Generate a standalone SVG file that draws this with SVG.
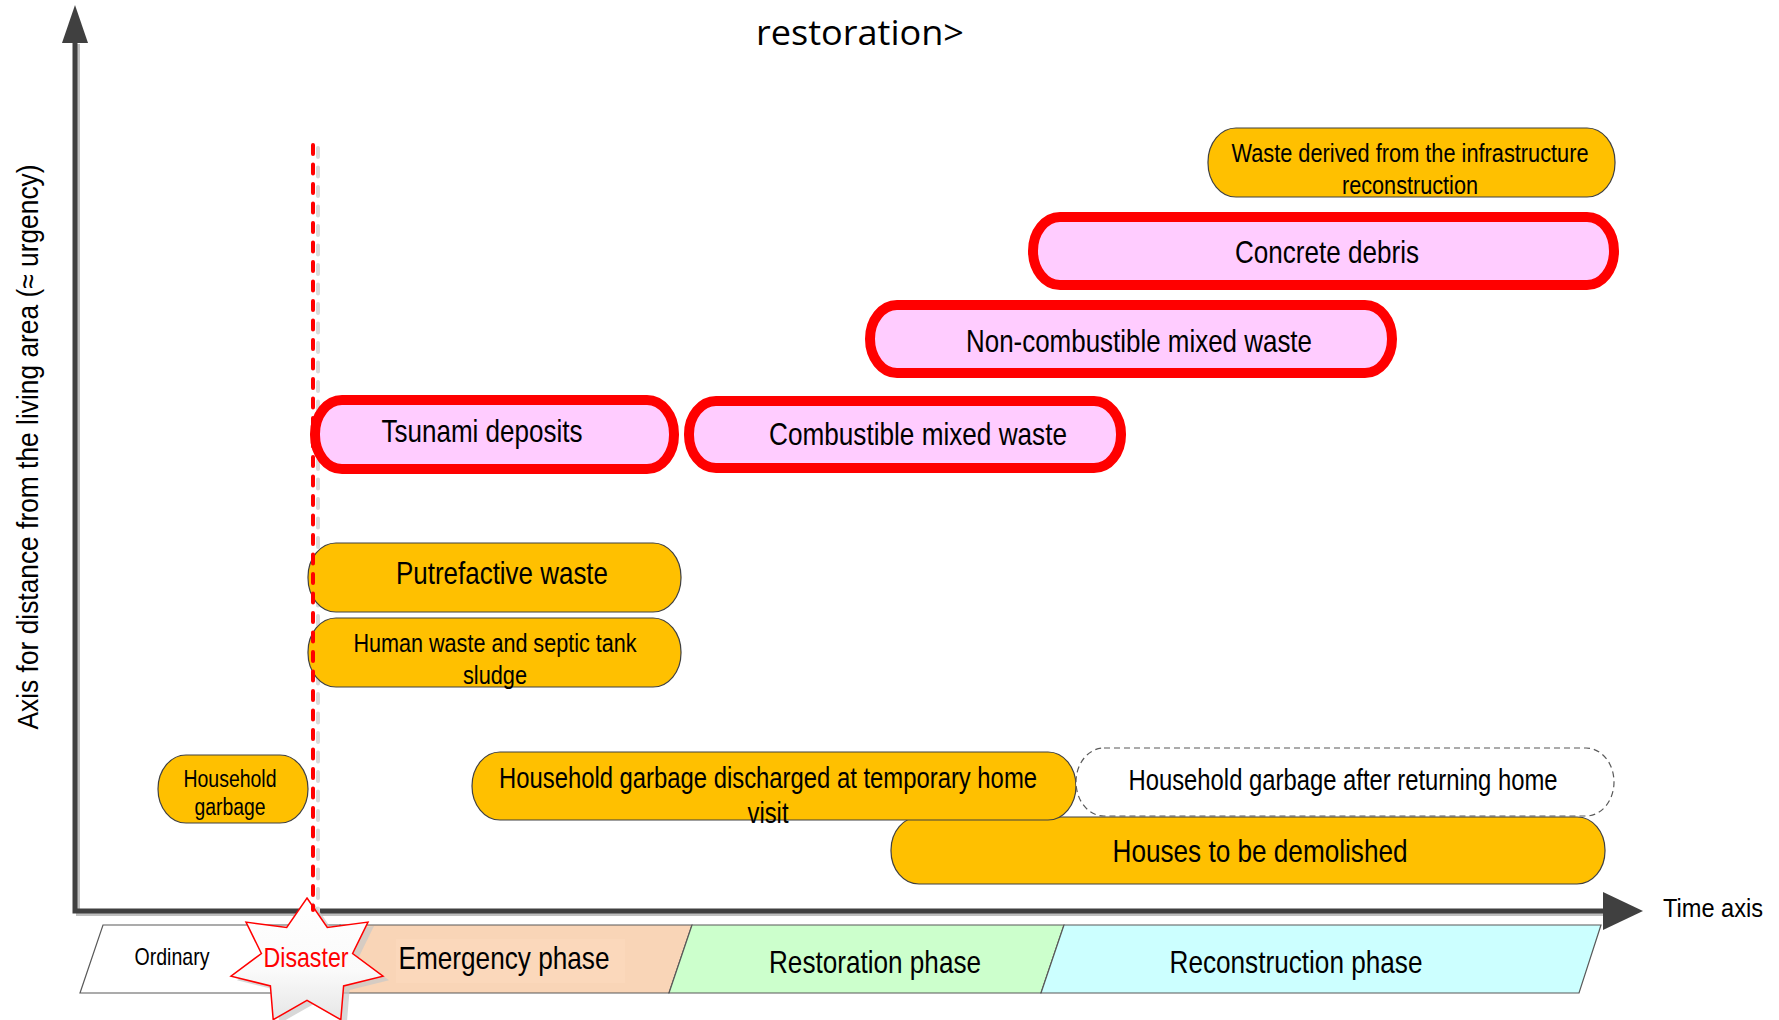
<svg xmlns="http://www.w3.org/2000/svg" width="1779" height="1020" viewBox="0 0 1779 1020">
  <defs>
    <style>
      .t { font-family: "Liberation Sans", Arial, sans-serif; fill: #000; text-anchor: middle; }
      .yl { fill: #FFC000; stroke: #404040; stroke-width: 1.2; }
      .pk { fill: #FFCCFF; stroke: #FF0000; stroke-width: 10; }
      .band { stroke: #595959; stroke-width: 1.2; }
      .axis { stroke: #404040; stroke-width: 5; fill: none; }
      .axis-shadow { stroke: #BFBFBF; stroke-width: 4; fill: none; }
    </style>
    <linearGradient id="starFill" x1="0" y1="0" x2="0" y2="1">
      <stop offset="0" stop-color="#FFFFFF"/>
      <stop offset="0.6" stop-color="#FAFAFA"/>
      <stop offset="1" stop-color="#E6E6E6"/>
    </linearGradient>
  </defs>

  <rect width="1779" height="1020" fill="#FFFFFF"/>

  <!-- heading (second line) -->
  <text x="860" y="45" font-family="'Open Sans', 'Liberation Sans', sans-serif" font-size="34" text-anchor="middle" textLength="208" lengthAdjust="spacingAndGlyphs" fill="#000">restoration&gt;</text>

  <!-- phase band along the time axis -->
  <g id="phases">
    <polygon class="band" fill="#FFFFFF" points="103,925 340,925 317,993 80,993"/>
    <polygon class="band" fill="#F9D5B7" points="340,925 692,925 669,993 317,993"/>
    <rect x="396" y="939" width="229" height="44" fill="#FBD8BB"/>
    <polygon class="band" fill="#CCFFCC" points="692,925 1064,925 1041,993 669,993"/>
    <polygon class="band" fill="#CCFFFF" points="1064,925 1601,925 1579,993 1041,993"/>
    <text class="t" x="172" y="965" font-size="24" textLength="75" lengthAdjust="spacingAndGlyphs">Ordinary</text>
    <text class="t" x="504" y="969" font-size="32" textLength="211" lengthAdjust="spacingAndGlyphs">Emergency phase</text>
    <text class="t" x="875" y="973" font-size="32" textLength="212" lengthAdjust="spacingAndGlyphs">Restoration phase</text>
    <text class="t" x="1296" y="973" font-size="32" textLength="253" lengthAdjust="spacingAndGlyphs">Reconstruction phase</text>
  </g>

  <!-- axes -->
  <g id="axes">
    <polyline class="axis-shadow" points="78,44 78,914 1604,914"/>
    <polyline class="axis" points="75,40 75,911 1606,911"/>
    <polygon fill="#404040" points="75,5 88,43 62,43"/>
    <polygon fill="#404040" points="1603,892 1643,911 1603,930"/>
    <text class="t" x="0" y="0" font-size="30" textLength="565" lengthAdjust="spacingAndGlyphs" transform="translate(38,447) rotate(-90)">Axis for distance from the living area (≈ urgency)</text>
    <text class="t" x="1663" y="917" font-size="26.5" style="text-anchor:start" textLength="100" lengthAdjust="spacingAndGlyphs">Time axis</text>
  </g>

  <!-- shadow of the disaster marker line -->
  <line x1="318" y1="148" x2="318" y2="912" stroke="#D9D9D9" stroke-width="4" stroke-linecap="round" stroke-dasharray="9 10.5"/>

  <!-- waste categories -->
  <g id="infrastructure-waste">
    <rect class="yl" x="1208" y="128" width="407" height="69" rx="28" ry="34"/>
    <text class="t" x="1410" y="162" font-size="26.5" textLength="357" lengthAdjust="spacingAndGlyphs">Waste derived from the infrastructure</text>
    <text class="t" x="1410" y="194" font-size="26.5" textLength="136" lengthAdjust="spacingAndGlyphs">reconstruction</text>
  </g>

  <g id="concrete-debris">
    <rect class="pk" x="1033" y="217" width="581" height="68" rx="27" ry="34"/>
    <text class="t" x="1327" y="263" font-size="32" textLength="184" lengthAdjust="spacingAndGlyphs">Concrete debris</text>
  </g>

  <g id="non-combustible-mixed-waste">
    <rect class="pk" x="870" y="305" width="522" height="68" rx="27" ry="34"/>
    <text class="t" x="1139" y="352" font-size="32" textLength="346" lengthAdjust="spacingAndGlyphs">Non-combustible mixed waste</text>
  </g>

  <g id="tsunami-deposits">
    <rect class="pk" x="315" y="400" width="359" height="69" rx="27" ry="34"/>
    <text class="t" x="482" y="442" font-size="32" textLength="201" lengthAdjust="spacingAndGlyphs">Tsunami deposits</text>
  </g>

  <g id="combustible-mixed-waste">
    <rect class="pk" x="689" y="401" width="432" height="67" rx="27" ry="33"/>
    <text class="t" x="918" y="445" font-size="32" textLength="298" lengthAdjust="spacingAndGlyphs">Combustible mixed waste</text>
  </g>

  <g id="putrefactive-waste">
    <rect class="yl" x="308" y="543" width="373" height="69" rx="28" ry="34"/>
    <text class="t" x="502" y="584" font-size="32" textLength="212" lengthAdjust="spacingAndGlyphs">Putrefactive waste</text>
  </g>

  <g id="human-waste">
    <rect class="yl" x="308" y="618" width="373" height="69" rx="28" ry="34"/>
    <text class="t" x="495" y="652" font-size="26.5" textLength="283" lengthAdjust="spacingAndGlyphs">Human waste and septic tank</text>
    <text class="t" x="495" y="684" font-size="26.5" textLength="64" lengthAdjust="spacingAndGlyphs">sludge</text>
  </g>

  <g id="household-garbage">
    <rect class="yl" x="158" y="755" width="150" height="68" rx="28" ry="34"/>
    <text class="t" x="230" y="787" font-size="23.5" textLength="93" lengthAdjust="spacingAndGlyphs">Household</text>
    <text class="t" x="230" y="815" font-size="23.5" textLength="71" lengthAdjust="spacingAndGlyphs">garbage</text>
  </g>

  <g id="houses-to-be-demolished">
    <rect class="yl" x="891" y="817" width="714" height="67" rx="28" ry="33"/>
    <text class="t" x="1260" y="862" font-size="32" textLength="295" lengthAdjust="spacingAndGlyphs">Houses to be demolished</text>
  </g>

  <g id="temporary-visit-garbage">
    <rect class="yl" x="472" y="752" width="604" height="68" rx="28" ry="34"/>
    <text class="t" x="768" y="788" font-size="29" textLength="538" lengthAdjust="spacingAndGlyphs">Household garbage discharged at temporary home</text>
    <text class="t" x="768" y="823" font-size="29" textLength="41" lengthAdjust="spacingAndGlyphs">visit</text>
  </g>

  <g id="after-return-garbage">
    <rect x="1076" y="748" width="538" height="68" rx="28" ry="34" fill="#FFFFFF" stroke="#595959" stroke-width="1.2" stroke-dasharray="6 4"/>
    <text class="t" x="1343" y="790" font-size="29" textLength="429" lengthAdjust="spacingAndGlyphs">Household garbage after returning home</text>
  </g>

  <!-- disaster burst -->
  <g id="disaster">
    <polygon fill="#C8C8C8" opacity="0.7" transform="translate(6,4)" points="307,898 327.3,927.4 368,922.1 352.6,953.5 383,976.2 343.6,985.9 340.8,1019.7 307,1000.4 273.2,1019.7 270.4,985.9 231,976.2 261.4,953.5 246,922.1 286.7,927.4"/>
    <polygon fill="url(#starFill)" stroke="#FF0000" stroke-width="1.5" stroke-linejoin="miter" points="307,898 327.3,927.4 368,922.1 352.6,953.5 383,976.2 343.6,985.9 340.8,1019.7 307,1000.4 273.2,1019.7 270.4,985.9 231,976.2 261.4,953.5 246,922.1 286.7,927.4"/>
    <text class="t" x="306" y="967" font-size="28.5" textLength="85" lengthAdjust="spacingAndGlyphs" style="fill:#FF0000">Disaster</text>
  </g>

  <!-- disaster marker line -->
  <g id="connectors">
    <line x1="313" y1="145" x2="313" y2="910" stroke="#FF0000" stroke-width="4" stroke-linecap="round" stroke-dasharray="9 10.5"/>
  </g>
</svg>
